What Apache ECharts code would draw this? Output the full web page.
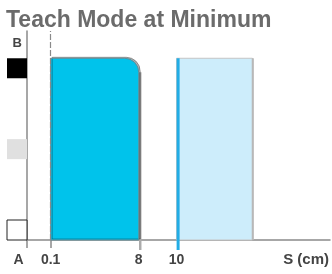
<!DOCTYPE html>
<html>
<head>
<meta charset="utf-8">
<script src="https://cdn.jsdelivr.net/npm/echarts@6/dist/echarts.min.js"></script>
<style>
  html, body { margin: 0; padding: 0; background: #fff; }
  #chart { width: 332px; height: 274px; }
</style>
</head>
<body>
<div id="chart"></div>
<script>
// schematic distance axis: marks are not to scale, so keep their positions apart from the labels
var tickPos = [1.25, 5.9, 7.9];
var tickLabels = ['0.1', '8', '10'];
var teachBar = [1.25, 5.9, 1];   // from, to, output level (B)
var windowBar = [7.9, 11.9, 1];
var squareLevels = [1, 0.5, 0];  // B, in between, A

var squareStyle = [
    { fill: '#000000', stroke: null },
    { fill: '#e0e0e0', stroke: null },
    { fill: '#ffffff', stroke: '#222222' }
];

var myChart = echarts.init(document.getElementById('chart'));

var option = {
    animation: false,
    title: {
        text: 'Teach Mode at Minimum',
        left: 6,
        top: 9,
        padding: 0,
        textStyle: {
            fontFamily: 'Liberation Sans',
            fontSize: 23,
            fontWeight: 'bold',
            color: '#6b6b6b'
        }
    },
    grid: { left: 27, right: 0, top: 31, bottom: 34 },
    xAxis: {
        type: 'value',
        min: 0,
        max: 16,
        name: 'S (cm)',
        nameLocation: 'end',
        nameGap: 0,
        nameTextStyle: {
            fontFamily: 'Liberation Sans',
            fontSize: 15,
            fontWeight: 'bold',
            color: '#444',
            align: 'right',
            verticalAlign: 'top',
            padding: [12, 1, 0, 0]
        },
        axisLine: { lineStyle: { color: '#8a8a8a', width: 1.5 } },
        axisTick: {
            customValues: [0, tickPos[0]],
            length: 8,
            lineStyle: { color: '#8a8a8a', width: 1.5 }
        },
        axisLabel: {
            customValues: [0].concat(tickPos),
            margin: 13,
            fontFamily: 'Liberation Sans',
            fontSize: 14,
            fontWeight: 'bold',
            color: '#444',
            formatter: function (v) {
                if (v === 0) return '{a|A}';
                return tickLabels[tickPos.indexOf(v)];
            },
            rich: {
                a: {
                    fontFamily: 'Liberation Sans',
                    fontSize: 14,
                    fontWeight: 'bold',
                    color: '#444',
                    padding: [0, 17, 0, 0]
                }
            }
        },
        splitLine: { show: false }
    },
    yAxis: {
        type: 'value',
        min: 0,
        max: 1.15,
        name: 'B',
        nameLocation: 'end',
        nameGap: -6,
        nameTextStyle: {
            fontFamily: 'Liberation Sans',
            fontSize: 13,
            fontWeight: 'bold',
            color: '#444',
            align: 'right',
            verticalAlign: 'top',
            padding: [0, 5, 0, 0]
        },
        axisLine: { show: true, lineStyle: { color: '#8a8a8a', width: 1.5 } },
        axisTick: { show: false },
        axisLabel: { show: false },
        splitLine: { show: false }
    },
    series: [
        {
            // window area after the teach point
            type: 'custom',
            data: [windowBar],
            renderItem: function (params, api) {
                var p0 = api.coord([api.value(0), api.value(2)]);
                var p1 = api.coord([api.value(1), 0]);
                return {
                    type: 'group',
                    children: [
                        {
                            type: 'rect',
                            shape: { x: p0[0], y: p0[1], width: p1[0] - p0[0], height: p1[1] - p0[1] },
                            style: { fill: '#cdedfb', stroke: '#c4c4c4', lineWidth: 1 }
                        },
                        {
                            type: 'line',
                            shape: { x1: p1[0] + 0.5, y1: p0[1], x2: p1[0] + 0.5, y2: p1[1] },
                            style: { stroke: '#b8b8b8', lineWidth: 2 }
                        },
                        {
                            type: 'line',
                            shape: { x1: p0[0] + 1.5, y1: p0[1], x2: p0[0] + 1.5, y2: p1[1] + 10 },
                            style: { stroke: '#22ade6', lineWidth: 3 }
                        }
                    ]
                };
            }
        },
        {
            // switching range at minimum teach
            type: 'custom',
            data: [teachBar],
            renderItem: function (params, api) {
                var p0 = api.coord([api.value(0), api.value(2)]);
                var p1 = api.coord([api.value(1), 0]);
                return {
                    type: 'group',
                    children: [
                        {
                            type: 'line',
                            shape: { x1: p1[0] + 1.5, y1: p0[1] + 14, x2: p1[0] + 1.5, y2: p1[1] + 10 },
                            style: { stroke: '#ababab', lineWidth: 2.5 }
                        },
                        {
                            type: 'rect',
                            shape: { x: p0[0], y: p0[1], width: p1[0] - p0[0], height: p1[1] - p0[1], r: [0, 14, 0, 0] },
                            style: {
                                fill: '#00c3eb',
                                stroke: '#5f8c98',
                                lineWidth: 1,
                                shadowColor: 'rgba(0,0,0,0.3)',
                                shadowOffsetX: 1.5,
                                shadowOffsetY: -1
                            }
                        }
                    ]
                };
            },
            markLine: {
                silent: true,
                symbol: 'none',
                label: { show: false },
                lineStyle: { color: '#8a8a8a', width: 1.2, type: [6, 2] },
                data: [{ xAxis: tickPos[0] }]
            }
        },
        {
            // output state squares beside the level axis
            type: 'custom',
            clip: false,
            data: squareLevels,
            renderItem: function (params, api) {
                var level = api.value(0);
                var p = api.coord([0, level]);
                var s = squareStyle[params.dataIndex];
                return {
                    type: 'rect',
                    shape: { x: p[0] - 20, y: p[1] - 20 * (1 - level), width: 20, height: 20 },
                    style: { fill: s.fill, stroke: s.stroke, lineWidth: 1 }
                };
            },
            encode: { y: 0 }
        }
    ]
};

myChart.setOption(option);
</script>
</body>
</html>
